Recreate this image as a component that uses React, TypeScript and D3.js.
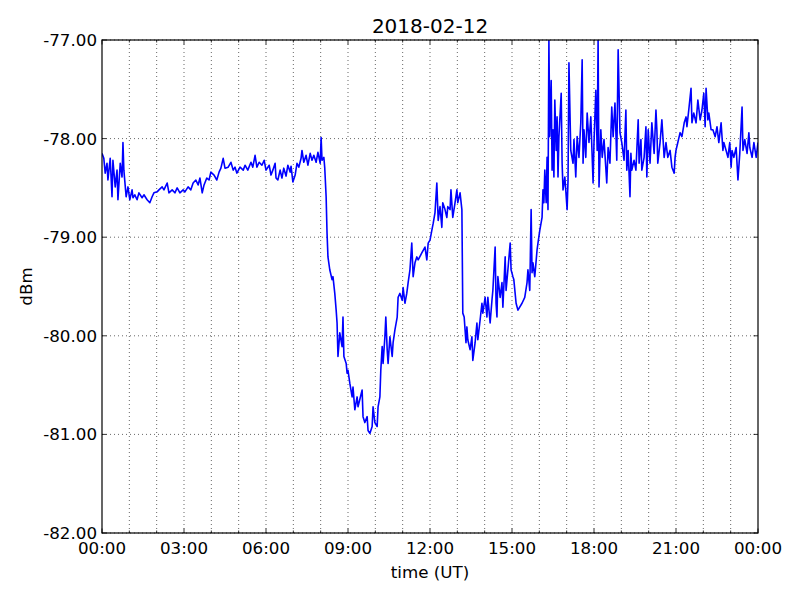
import React from "react";
import * as d3 from "d3";

const title = "2018-02-12";
const xLabel = "time (UT)";
const yLabel = "dBm";
const yTicks = [-82, -81, -80, -79, -78, -77];
const xTickMinutes = [0, 180, 360, 540, 720, 900, 1080, 1260, 1440];
const xTickLabels = ["00:00", "03:00", "06:00", "09:00", "12:00", "15:00", "18:00", "21:00", "00:00"];

// time in minutes since 00:00 UT
const timeMin = [
  0, 4, 7, 11, 13, 18, 22, 24, 29, 33, 35, 40, 44, 46, 48, 53, 57, 61, 66, 68, 72, 77, 81, 88, 92, 99,
  105, 110, 114, 121, 125, 132, 136, 143, 147, 154, 160, 165, 171, 178, 182, 189, 195, 200, 206, 211,
  215, 220, 224, 230, 235, 239, 246, 252, 257, 261, 266, 270, 277, 283, 288, 292, 296, 303, 310, 314,
  320, 327, 331, 336, 340, 345, 351, 356, 360,
  367, 371, 375, 380, 382, 386, 391, 395, 399, 404, 408, 413, 415, 419, 424, 428, 432, 437, 439, 443,
  448, 452, 457, 461, 465, 470, 474, 479, 481, 483, 487, 489, 492, 494, 496, 500, 505, 507, 511, 514,
  516, 518, 522, 527, 529, 531, 536, 538, 540, 544, 549, 551, 555, 560, 562, 571, 573, 577, 582, 584,
  588, 593, 595, 599, 604, 606, 610, 612, 615, 617, 621, 623, 626, 628, 632, 637, 639, 643, 648, 650,
  654, 659, 661, 665, 669, 672, 676, 680, 683, 687, 691, 694, 702, 709, 713, 716,
  720, 724, 727, 731, 735, 738, 742, 746, 748, 753, 757, 759, 764, 766, 770, 775, 779, 781, 786, 790,
  792, 795, 797, 799, 801, 803, 808, 812, 814, 819, 823, 825, 830, 834, 836, 841, 845, 847, 852, 856,
  858, 863, 865, 867, 869, 874, 878, 880, 885, 887, 891, 896, 898, 902, 904, 909, 913, 922, 928, 933,
  935, 939, 942, 944, 946, 950, 955, 957, 961, 966, 968, 970, 972, 975, 977, 979, 981, 983, 986, 988,
  990, 992, 994, 997, 999, 1001, 1003, 1008, 1010, 1012, 1016, 1021, 1023, 1025, 1029, 1034, 1036,
  1040, 1043, 1047, 1051, 1054, 1056, 1058, 1062, 1065, 1069, 1073, 1078, 1080, 1084, 1087, 1089,
  1091, 1095, 1098, 1102, 1108, 1111, 1115, 1119, 1122, 1126, 1130, 1133, 1137, 1141, 1146, 1150,
  1152, 1155, 1159, 1161, 1163, 1168, 1172, 1177, 1179, 1183, 1185, 1190, 1194, 1196, 1199, 1203,
  1207, 1212, 1216, 1218, 1220, 1225, 1229, 1234, 1238, 1242, 1247, 1251, 1256, 1258, 1260, 1264,
  1269, 1273, 1278, 1282, 1284, 1288, 1293, 1295, 1299, 1304, 1308, 1313, 1317, 1321, 1324, 1326,
  1330, 1332, 1337, 1341, 1346, 1350, 1354, 1359, 1363, 1365, 1370, 1374, 1378, 1381, 1383, 1387,
  1392, 1396, 1400, 1405, 1407, 1411, 1416, 1420, 1422, 1427, 1431, 1436, 1440,
];

// received signal level, dBm
const dbm = [
  -78.15, -78.2, -78.35, -78.25, -78.42, -78.2, -78.59, -78.22, -78.49, -78.32, -78.62, -78.25, -78.39,
  -78.04, -78.32, -78.59, -78.49, -78.62, -78.52, -78.6, -78.57, -78.62, -78.55, -78.6, -78.57, -78.62,
  -78.65, -78.59, -78.55, -78.54, -78.52, -78.49, -78.52, -78.45, -78.55, -78.52, -78.55, -78.5, -78.55,
  -78.52, -78.54, -78.49, -78.52, -78.45, -78.42, -78.47, -78.4, -78.55, -78.47, -78.4, -78.42, -78.34,
  -78.37, -78.42, -78.34, -78.3, -78.2, -78.3, -78.29, -78.24, -78.32, -78.29, -78.35, -78.29, -78.32,
  -78.27, -78.32, -78.24, -78.29, -78.17, -78.29, -78.24, -78.27, -78.22, -78.32,
  -78.27, -78.37, -78.32, -78.25, -78.4, -78.42, -78.32, -78.4, -78.3, -78.38, -78.27, -78.34, -78.28,
  -78.44, -78.37, -78.25, -78.29, -78.2, -78.12, -78.24, -78.17, -78.27, -78.15, -78.22, -78.17, -78.24,
  -78.14, -78.25, -77.99, -78.22, -78.19, -78.3, -78.59, -78.96, -79.2, -79.33, -79.43, -79.4, -79.57,
  -79.74, -79.87, -80.21, -79.97, -80.11, -79.81, -80.21, -80.28, -80.38, -80.35, -80.48, -80.62, -80.52,
  -80.75, -80.62, -80.72, -80.55, -80.82, -80.88, -80.82, -80.96, -80.99, -80.92, -80.72, -80.88, -80.92,
  -80.72, -80.62, -80.35, -80.11, -80.28, -80.01, -79.81, -80.14, -80.28, -80.01, -80.21, -80.07, -79.94,
  -79.81, -79.61, -79.57, -79.64, -79.51, -79.67, -79.57, -79.46, -79.33, -79.06, -79.4, -79.26, -79.2,
  -79.23, -79.16, -79.1, -79.23, -79.06,
  -79.03, -78.93, -78.86, -78.75, -78.45, -78.83, -78.69, -78.9, -78.65, -78.72, -78.8, -78.69, -78.72,
  -78.52, -78.8, -78.65, -78.52, -78.65, -78.55, -78.72, -79.77, -79.81, -79.94, -80.07, -79.91, -80.04,
  -80.14, -80.01, -80.25, -80.07, -79.87, -80.04, -79.84, -79.67, -79.77, -79.61, -79.81, -79.61, -79.87,
  -79.64, -79.54, -79.1, -79.67, -79.81, -79.4, -79.61, -79.46, -79.71, -79.2, -79.54, -79.33, -79.06,
  -79.33, -79.4, -79.43, -79.67, -79.74, -79.67, -79.61, -79.46, -79.33, -79.54, -78.72, -79.36, -79.26,
  -79.4, -79.13, -79.06, -78.93, -78.8, -78.52, -78.65, -78.32, -78.65, -78.19, -78.72, -77.0, -77.98,
  -77.41, -78.32, -77.91, -78.39, -77.61, -78.12, -77.78, -78.39, -77.98, -77.54, -78.25, -78.52, -78.39,
  -78.72, -78.42, -77.23, -78.12, -78.25, -78.01, -78.39, -77.98, -78.19, -77.84, -77.2, -78.25, -77.91,
  -78.19, -77.74, -78.04, -77.78, -78.45, -78.04, -77.51, -78.12, -77.0, -78.49, -77.91, -78.19, -78.01,
  -78.45, -78.09, -78.25, -77.68, -77.98, -77.64, -78.22, -77.1, -77.94, -78.04, -78.22, -77.71, -78.32,
  -78.12, -78.59, -78.15, -78.32, -78.22, -78.32, -77.81, -78.25, -78.01, -78.32, -78.19, -77.88, -78.39,
  -77.91, -78.25, -77.84, -78.15, -77.71, -77.91, -78.25, -78.04, -77.81, -78.19, -78.04, -78.19, -78.12,
  -78.29, -78.35, -78.19, -78.12, -78.04, -77.94, -77.98, -77.84, -77.78, -77.88, -77.71, -77.49, -77.84,
  -77.74, -77.84, -77.61, -77.81, -77.71, -77.54, -77.88, -77.49, -77.81, -77.74, -77.91, -77.91, -77.98,
  -77.88, -78.04, -77.84, -78.12, -78.04, -78.12, -78.19, -78.04, -78.29, -78.12, -78.19, -78.09, -78.42,
  -78.15, -77.68, -78.12, -78.01, -78.15, -77.94, -78.09, -78.19, -78.04, -78.19, -78.04,
];

const W = 800;
const H = 600;
const left = 102;
const right = 758;
const top = 40;
const bottom = 533;
const font = "'DejaVu Sans', sans-serif";

export default function App() {
  const x = d3.scaleLinear().domain([0, 1440]).range([left, right]);
  const y = d3.scaleLinear().domain([-82, -77]).range([bottom, top]);
  const n = Math.min(timeMin.length, dbm.length);
  const pts: [number, number][] = [];
  for (let i = 0; i < n; i++) pts.push([timeMin[i], dbm[i]]);
  const line = d3
    .line<[number, number]>()
    .x((d) => x(d[0]))
    .y((d) => y(d[1]));
  const hours = d3.range(0, 25).map((h) => h * 60);
  const minorHours = hours.filter((m) => m % 180 !== 0);

  return (
    <svg
      width={W}
      height={H}
      style={{ position: "absolute", left: 0, top: 0, background: "#fff" }}
      fontFamily={font}
    >
      <rect x={0} y={0} width={W} height={H} fill="#fff" />
      <defs>
        <clipPath id="plot">
          <rect x={left} y={top} width={right - left} height={bottom - top} />
        </clipPath>
      </defs>
      {/* grid */}
      <g stroke="#000" strokeWidth={0.6} strokeDasharray="1,3">
        {hours.slice(1, -1).map((m) => (
          <line key={"gv" + m} x1={x(m)} x2={x(m)} y1={top} y2={bottom} />
        ))}
        {yTicks.map((v) => (
          <line key={"gh" + v} x1={left} x2={right} y1={y(v)} y2={y(v)} />
        ))}
      </g>
      {/* data */}
      <path
        d={line(pts) || ""}
        fill="none"
        stroke="#0000ff"
        strokeWidth={1.6}
        strokeLinejoin="round"
        clipPath="url(#plot)"
      />
      {/* ticks */}
      <g stroke="#000" strokeWidth={0.8}>
        {xTickMinutes.map((m) => (
          <g key={"xt" + m}>
            <line x1={x(m)} x2={x(m)} y1={bottom} y2={bottom - 4.5} />
            <line x1={x(m)} x2={x(m)} y1={top} y2={top + 4.5} />
          </g>
        ))}
        {minorHours.map((m) => (
          <g key={"xm" + m}>
            <line x1={x(m)} x2={x(m)} y1={bottom} y2={bottom - 2.5} />
            <line x1={x(m)} x2={x(m)} y1={top} y2={top + 2.5} />
          </g>
        ))}
        {yTicks.map((v) => (
          <g key={"yt" + v}>
            <line x1={left} x2={left + 4.5} y1={y(v)} y2={y(v)} />
            <line x1={right} x2={right - 4.5} y1={y(v)} y2={y(v)} />
          </g>
        ))}
      </g>
      <rect
        x={left}
        y={top}
        width={right - left}
        height={bottom - top}
        fill="none"
        stroke="#000"
        strokeWidth={1.2}
      />
      {/* tick labels */}
      <g fontSize={16.7} fill="#000">
        {xTickMinutes.map((m, i) => (
          <text key={"xl" + i} x={x(m)} y={bottom + 21} textAnchor="middle">
            {xTickLabels[i]}
          </text>
        ))}
        {yTicks.map((v) => (
          <text key={"yl" + v} x={left - 5} y={y(v) + 6} textAnchor="end">
            {v.toFixed(2)}
          </text>
        ))}
      </g>
      <text x={(left + right) / 2} y={578} textAnchor="middle" fontSize={16.7}>
        {xLabel}
      </text>
      <text
        transform={`translate(32, ${(top + bottom) / 2}) rotate(-90)`}
        textAnchor="middle"
        fontSize={16.7}
      >
        {yLabel}
      </text>
      <text x={(left + right) / 2} y={33} textAnchor="middle" fontSize={20}>
        {title}
      </text>
    </svg>
  );
}
